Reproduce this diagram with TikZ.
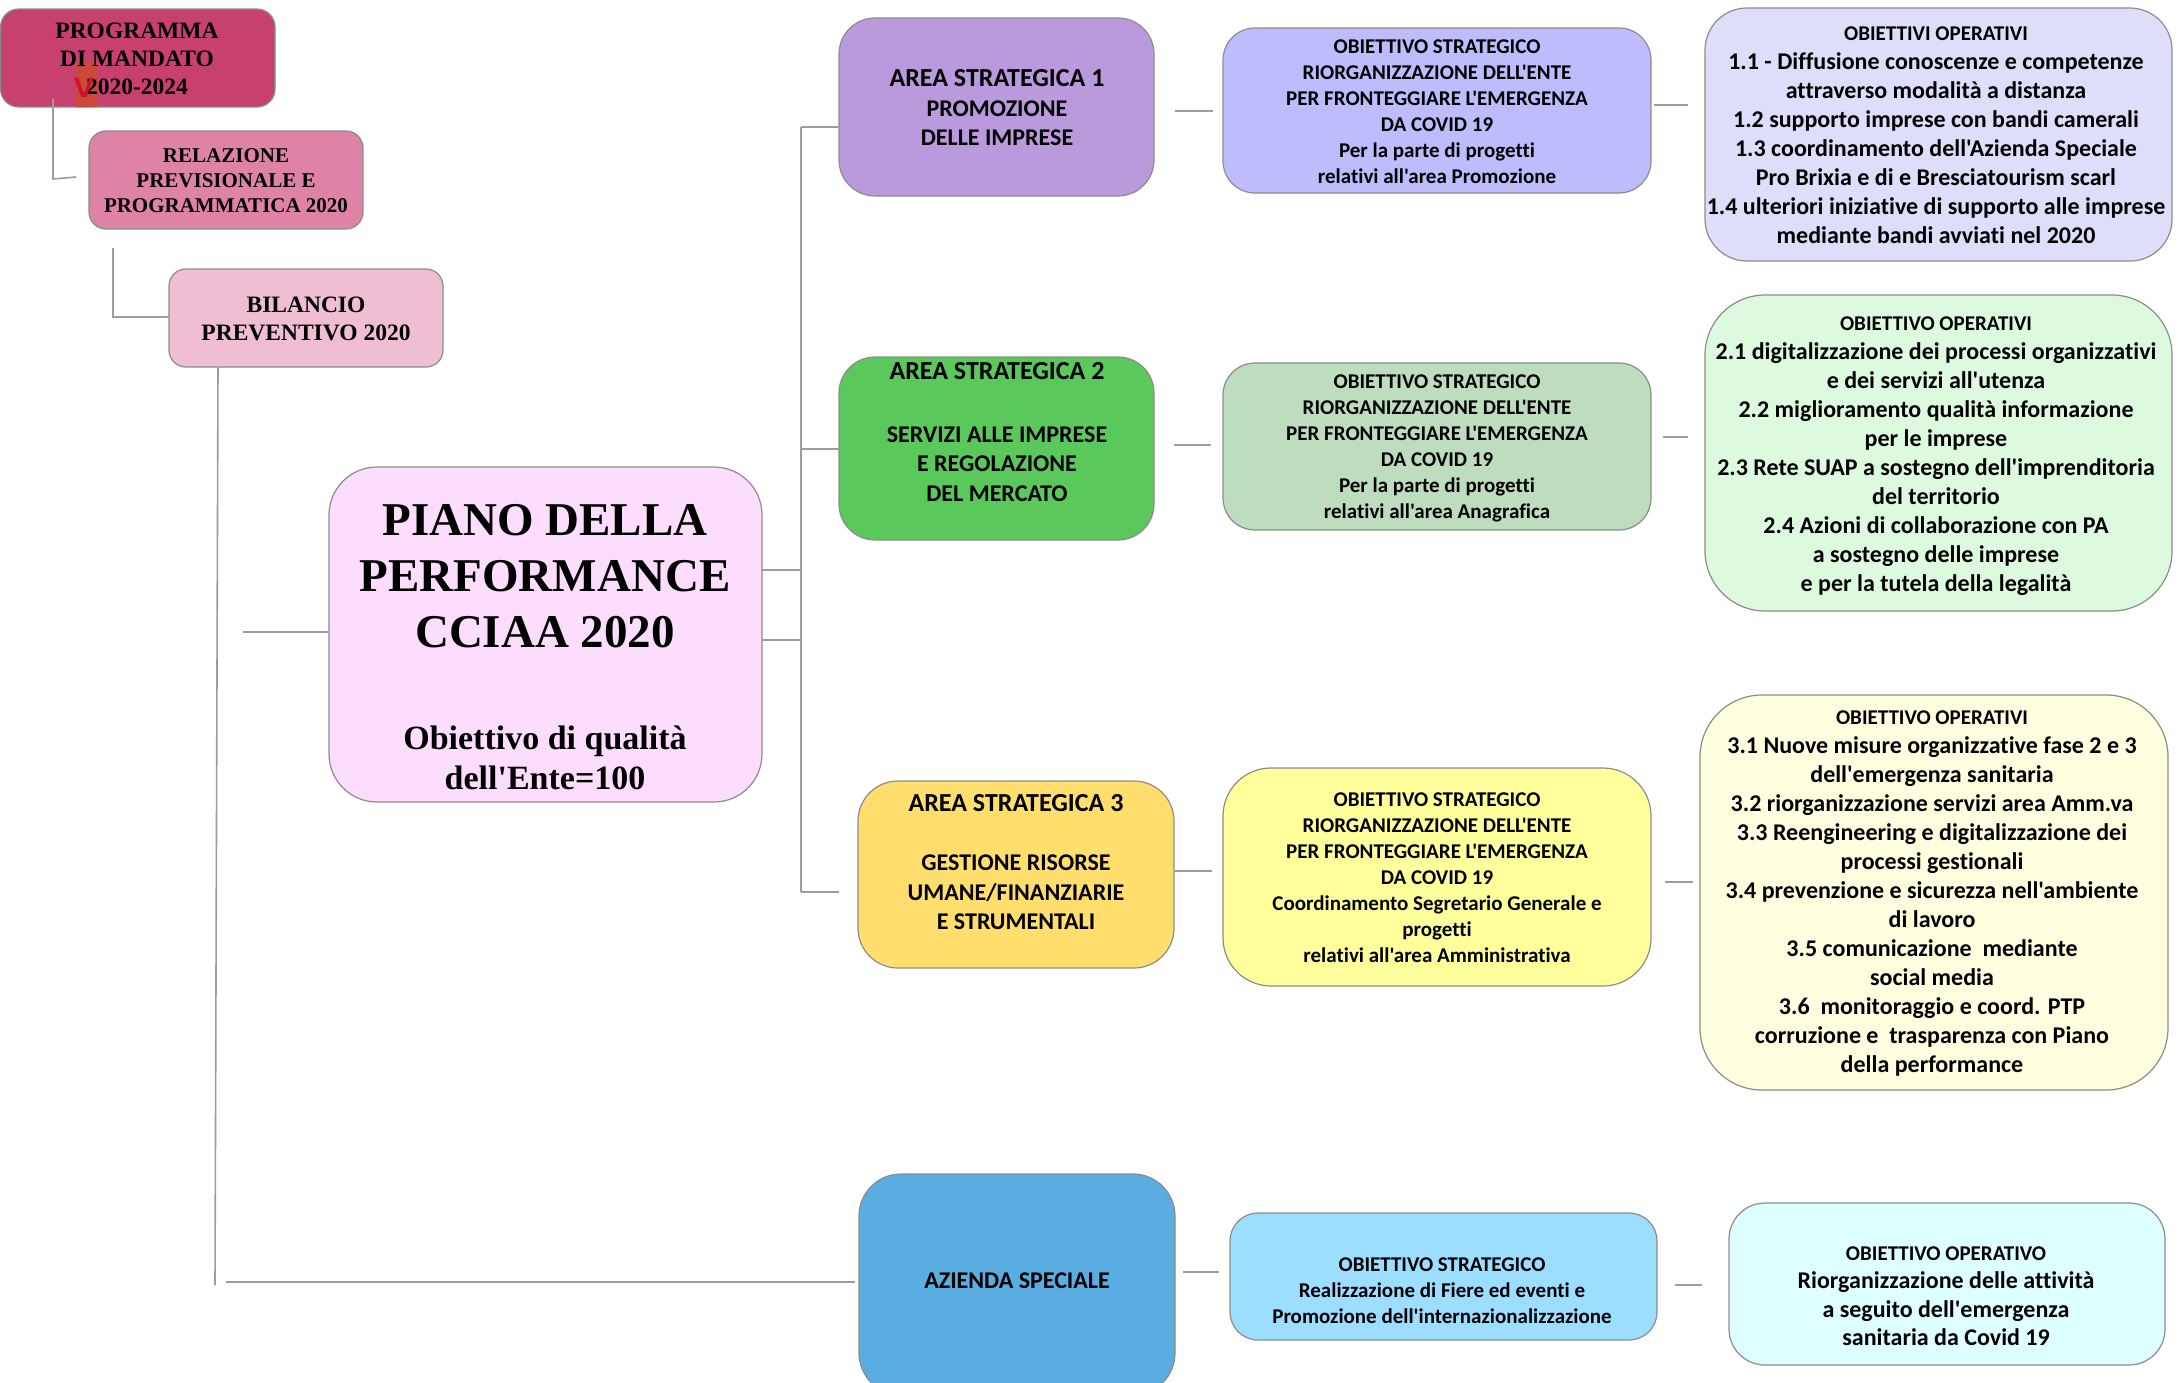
\documentclass[tikz,border=0pt]{standalone}
\usepackage{fontspec}
\setmainfont{Liberation Serif}[Ligatures={TeXOff}]
\newfontfamily\calfont{Carlito}[Ligatures={TeXOff,CommonOff},RawFeature={-liga;-clig;-dlig}]
\definecolor{cProg}{HTML}{C8406F}
\definecolor{cRel}{HTML}{DE82A6}
\definecolor{cBil}{HTML}{F0BED3}
\definecolor{cPiano}{HTML}{FDDDFD}
\definecolor{cAone}{HTML}{BA9ADC}
\definecolor{cSone}{HTML}{BDBDFD}
\definecolor{cOone}{HTML}{DEDEFA}
\definecolor{cAtwo}{HTML}{5BC85B}
\definecolor{cStwo}{HTML}{BEDDBE}
\definecolor{cOtwo}{HTML}{DEFADE}
\definecolor{cAthree}{HTML}{FFDE6E}
\definecolor{cSthree}{HTML}{FFFF9C}
\definecolor{cOthree}{HTML}{FFFFDF}
\definecolor{cAz}{HTML}{5AADE0}
\definecolor{cSfour}{HTML}{9CDEFF}
\definecolor{cOfour}{HTML}{DEFFFF}
\definecolor{cBorder}{HTML}{8C8C8C}
\definecolor{cLine}{HTML}{9C9C9C}
\definecolor{cArt}{HTML}{C94A3A}
\definecolor{cV}{HTML}{D0122E}
\newcommand\mkbox[7]{%
  \node[boxst, fill=#6, rounded corners=#7pt,
        minimum width={(#4-#2)*1pt}, minimum height={(#5-#3)*1pt}]
        (#1) at ({(#2+#4)/2},{(#3+#5)/2}) {};}
\begin{document}
\begin{tikzpicture}[x=1pt,y=-1pt,
  boxst/.style={draw=cBorder, line width=1.2pt, inner sep=0pt, outer sep=0pt},
  conn/.style={draw=cLine, line width=1.6pt},
  txt/.style={align=center, inner sep=0pt, text=black},
  serbig/.style={font=\bfseries\fontsize{23.5}{28}\selectfont},
  sermid/.style={font=\bfseries\fontsize{21}{25}\selectfont},
  pianotitle/.style={font=\bfseries\fontsize{47}{56}\selectfont},
  pianosub/.style={font=\bfseries\fontsize{34}{40}\selectfont},
  areatxt/.style={font=\calfont\bfseries\fontsize{24}{29.5}\selectfont},
  strattxt/.style={font=\calfont\bfseries\fontsize{21}{26}\selectfont},
  optxt/.style={font=\calfont\bfseries\fontsize{24}{29}\selectfont}]
\useasboundingbox (0,0) rectangle (2178,1382);
\clip (0,0) rectangle (2178,1382);
\fill[white] (0,0) rectangle (2178,1382);
\newcommand\ttl[1]{{\fontsize{26}{29.5}\selectfont #1}}
\newcommand\hd[1]{{\fontsize{21}{29}\selectfont #1}}

% boxes
\mkbox{prog}{0.6}{9}{275}{107}{cProg}{18}
\mkbox{rel}{89}{131}{363}{229}{cRel}{17}
\mkbox{bil}{169}{269}{443}{367}{cBil}{17}
\mkbox{piano}{329}{467}{762}{802}{cPiano}{48}
\mkbox{aone}{839}{18}{1154}{196}{cAone}{36}
\mkbox{atwo}{839}{357}{1154}{540}{cAtwo}{36}
\mkbox{athree}{858}{781}{1174}{968}{cAthree}{40}
\mkbox{az}{859}{1174}{1175}{1395}{cAz}{42}
\mkbox{sone}{1223}{28}{1651}{193}{cSone}{32}
\mkbox{stwo}{1223}{363}{1651}{530}{cStwo}{32}
\mkbox{sthree}{1223}{768}{1651}{986}{cSthree}{48}
\mkbox{sfour}{1230}{1213}{1657}{1340}{cSfour}{28}
\mkbox{oone}{1705}{8}{2172}{261}{cOone}{42}
\mkbox{otwo}{1705}{295}{2172}{611}{cOtwo}{60}
\mkbox{othree}{1700}{695}{2168}{1090}{cOthree}{62}
\mkbox{ofour}{1729}{1203}{2165}{1365}{cOfour}{36}

% artifact in first box
\node[fill=cArt, minimum width=21pt, minimum height=45pt, inner sep=0pt] (art) at (86.5,84.5) {};

% texts
\node[txt, serbig] (progt) at (137,59) {PROGRAMMA\\DI MANDATO\\2020-2024};
\node[txt, font=\sffamily\bfseries\fontsize{28}{28}\selectfont, text=cV] (vmark) at (84,88) {V};
\node[txt, sermid] (relt) at (226,181) {RELAZIONE\\PREVISIONALE E\\PROGRAMMATICA 2020};
\node[txt, serbig] (bilt) at (306,319) {BILANCIO\\PREVENTIVO 2020};
\node[txt, pianotitle] (pianot) at (545,576) {PIANO DELLA\\PERFORMANCE\\CCIAA 2020};
\node[txt, pianosub] (pianos) at (545,758) {Obiettivo di qualità\\dell'Ente=100};

\node[txt, areatxt] (aonet) at (997,108) {\ttl{AREA STRATEGICA 1}\\PROMOZIONE\\DELLE IMPRESE};
\node[txt, areatxt] (atwot) at (997,432) {\ttl{AREA STRATEGICA 2}\\[33pt]SERVIZI ALLE IMPRESE\\E REGOLAZIONE\\DEL MERCATO};
\node[txt, areatxt] (athreet) at (1016,862) {\ttl{AREA STRATEGICA 3}\\[30pt]GESTIONE RISORSE\\UMANE/FINANZIARIE\\E STRUMENTALI};
\node[txt, areatxt] (azt) at (1017,1281) {AZIENDA SPECIALE};

\node[txt, strattxt] (sonet) at (1437,112) {OBIETTIVO STRATEGICO\\RIORGANIZZAZIONE DELL'ENTE\\PER FRONTEGGIARE L'EMERGENZA\\DA COVID 19\\Per la parte di progetti\\relativi all'area Promozione};
\node[txt, strattxt] (stwot) at (1437,448) {OBIETTIVO STRATEGICO\\RIORGANIZZAZIONE DELL'ENTE\\PER FRONTEGGIARE L'EMERGENZA\\DA COVID 19\\Per la parte di progetti\\relativi all'area Anagrafica};
\node[txt, strattxt] (sthreet) at (1437,878) {OBIETTIVO STRATEGICO\\RIORGANIZZAZIONE DELL'ENTE\\PER FRONTEGGIARE L'EMERGENZA\\DA COVID 19\\Coordinamento Segretario Generale e\\progetti\\relativi all'area Amministrativa};
\node[txt, strattxt] (sfourt) at (1442,1291) {OBIETTIVO STRATEGICO\\Realizzazione di Fiere ed eventi e\\Promozione dell'internazionalizzazione};

\node[txt, optxt] (oonet) at (1936,135) {\hd{OBIETTIVI OPERATIVI}\\1.1 - Diffusione conoscenze e competenze\\attraverso modalità a distanza\\1.2 supporto imprese con bandi camerali\\1.3 coordinamento dell'Azienda Speciale\\Pro Brixia e di e Bresciatourism scarl\\1.4 ulteriori iniziative di supporto alle imprese\\mediante bandi avviati nel 2020};
\node[txt, optxt] (otwot) at (1936,456) {\hd{OBIETTIVO OPERATIVI}\\2.1 digitalizzazione dei processi organizzativi\\e dei servizi all'utenza\\2.2 miglioramento qualità informazione\\per le imprese\\2.3 Rete SUAP a sostegno dell'imprenditoria\\del territorio\\2.4 Azioni di collaborazione con PA\\a sostegno delle imprese\\e per la tutela della legalità};
\node[txt, optxt] (othreet) at (1932,893) {\hd{OBIETTIVO OPERATIVI}\\3.1 Nuove misure organizzative fase 2 e 3\\dell'emergenza sanitaria\\3.2 riorganizzazione servizi area Amm.va\\3.3 Reengineering e digitalizzazione dei\\processi gestionali\\3.4 prevenzione e sicurezza nell'ambiente\\di lavoro\\3.5 comunicazione\ \ mediante\\social media\\3.6\ \ monitoraggio e coord. PTP\\corruzione e\ \ trasparenza con Piano\\della performance};
\node[txt, optxt, font=\calfont\bfseries\fontsize{24}{28.5}\selectfont] (ofourt) at (1946,1296) {\hd{OBIETTIVO OPERATIVO}\\Riorganizzazione delle attività\\a seguito dell'emergenza\\sanitaria da Covid 19};

% connector end points
\coordinate (k1a) at (53,99);   \coordinate (k1b) at (53,179);  \coordinate (k1c) at (76,177);
\coordinate (k2a) at (113,248); \coordinate (k2b) at (113,317);
\coordinate (k3a) at (215,1285);
\coordinate (k3b) at (226,1282); \coordinate (k3c) at (855,1282);
\coordinate (k4a) at (243,632);
\coordinate (tr1) at (801,570); \coordinate (tr2) at (801,640);
\coordinate (trtop) at (801,127); \coordinate (trmid) at (801,449); \coordinate (trbot) at (801,892);
\coordinate (k5) at (839,892);
\coordinate (m1a) at (1175,111); \coordinate (m1b) at (1213,111);
\coordinate (m2a) at (1174,445); \coordinate (m2b) at (1211,445);
\coordinate (m3a) at (1175,871); \coordinate (m3b) at (1212,871);
\coordinate (m4a) at (1183,1272); \coordinate (m4b) at (1219,1272);
\coordinate (r1a) at (1654,105); \coordinate (r1b) at (1688,105);
\coordinate (r2a) at (1663,437); \coordinate (r2b) at (1688,437);
\coordinate (r3a) at (1665,882); \coordinate (r3b) at (1693,882);
\coordinate (r4a) at (1675,1285); \coordinate (r4b) at (1702,1285);

% connectors
\draw[conn] (k1a) -- (k1b) -- (k1c);
\draw[conn] (k2a) -- (k2b) -- (bil.west |- k2b);
\draw[conn] (bil.south -| 218,0) -- (k3a);
\draw[conn] (k3b) -- (k3c);
\draw[conn] (k4a) -- (piano.west |- k4a);
\draw[conn] (piano.east |- tr1) -- (tr1);
\draw[conn] (piano.east |- tr2) -- (tr2);
\draw[conn] (trtop) -- (trbot);
\draw[conn] (trtop) -- (aone.west |- trtop);
\draw[conn] (trmid) -- (atwo.west |- trmid);
\draw[conn] (trbot) -- (k5);
\draw[conn] (m1a) -- (m1b);
\draw[conn] (m2a) -- (m2b);
\draw[conn] (m3a) -- (m3b);
\draw[conn] (m4a) -- (m4b);
\draw[conn] (r1a) -- (r1b);
\draw[conn] (r2a) -- (r2b);
\draw[conn] (r3a) -- (r3b);
\draw[conn] (r4a) -- (r4b);
\end{tikzpicture}
\end{document}
